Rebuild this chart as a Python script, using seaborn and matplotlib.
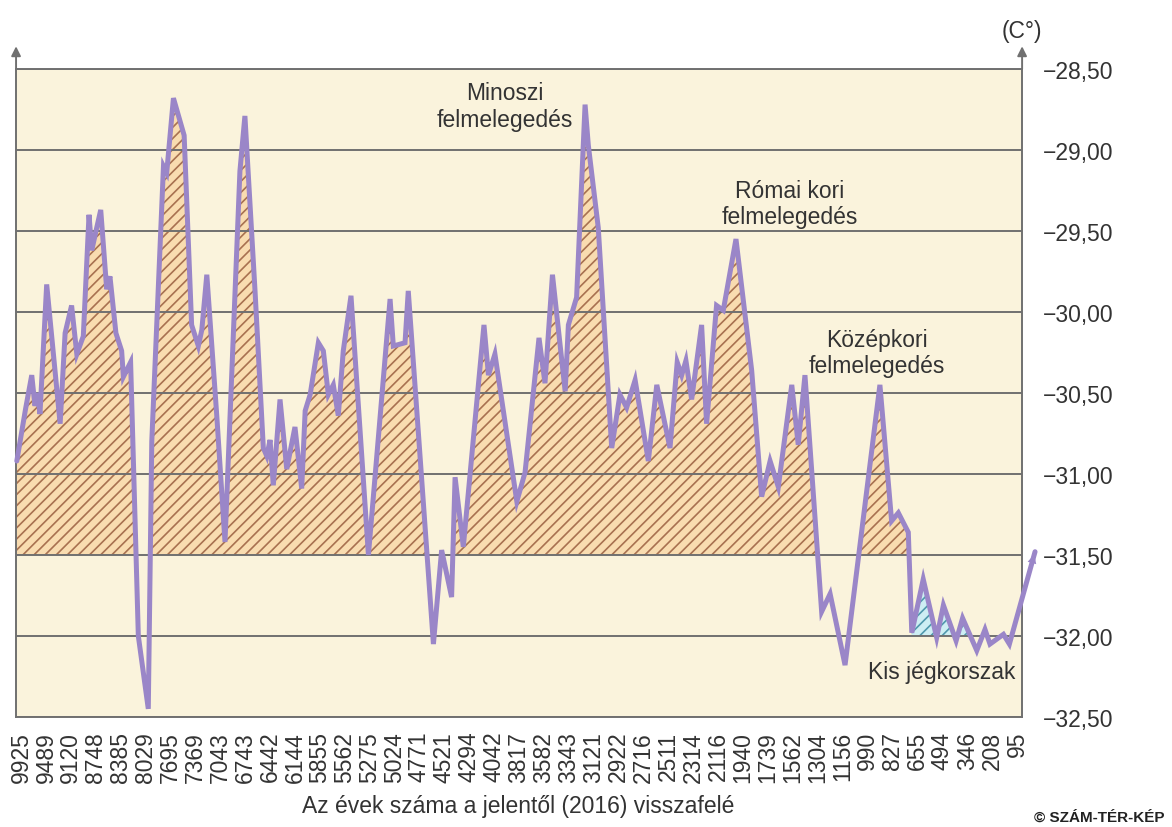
"""
Grönlandi jégmag hőmérséklet-görbe (holocén) újrarajzolása
"""

import matplotlib
matplotlib.use("Agg")
import matplotlib.pyplot as plt
import pandas as pd
import seaborn as sns

# minta sorszáma (egység = egy tengelyfelirat) és hőmérséklet (C°)
sample_pos = [
    -0.17, 0.18, 0.43, 0.56, 0.66, 0.76, 1.03, 1.57, 1.77, 2.03,
    2.24, 2.50, 2.73, 2.84, 3.01, 3.20, 3.44, 3.57, 3.81, 4.04,
    4.11, 4.40, 4.71, 5.11, 5.25, 5.72, 5.85, 6.12, 6.55, 6.85,
    7.12, 7.26, 7.46, 7.86, 8.19, 8.79, 8.99, 9.40, 9.73, 9.87,
    10.00, 10.13, 10.40, 10.67, 11.00, 11.27, 11.41, 11.61, 11.94, 12.14,
    12.34, 12.54, 12.74, 12.94, 13.25, 13.95, 14.82, 14.95, 15.42, 15.55,
    16.56, 16.89, 17.29, 17.43, 17.76, 18.59, 18.77, 19.03, 19.91, 20.24,
    20.80, 21.04, 21.34, 21.85, 21.98, 22.31, 22.65, 22.78, 23.18, 23.72,
    24.05, 24.32, 24.66, 25.19, 25.53, 26.06, 26.35, 26.53, 26.70, 26.93,
    27.33, 27.53, 27.93, 28.20, 28.71, 29.34, 29.74, 30.08, 30.41, 30.95,
    31.21, 31.48, 32.15, 32.49, 33.09, 34.49, 34.96, 35.23, 35.63, 35.77,
    36.23, 36.77, 37.04, 37.55, 37.81, 38.38, 38.71, 38.91, 39.45, 39.69,
    40.72,
]
temp_c = [
    -30.92, -30.60, -30.39, -30.58, -30.50, -30.63, -29.83, -30.69, -30.13, -29.96,
    -30.26, -30.15, -29.40, -29.62, -29.50, -29.37, -29.86, -29.78, -30.13, -30.24,
    -30.40, -30.31, -32.00, -32.45, -30.80, -29.10, -29.14, -28.68, -28.91, -30.08,
    -30.21, -30.11, -29.77, -30.64, -31.42, -29.13, -28.79, -29.88, -30.84, -30.89,
    -30.79, -31.07, -30.54, -30.97, -30.71, -31.09, -30.61, -30.51, -30.19, -30.24,
    -30.51, -30.45, -30.64, -30.24, -29.90, -31.50, -29.92, -30.21, -30.19, -29.87,
    -32.05, -31.47, -31.76, -31.02, -31.45, -30.08, -30.39, -30.26, -31.17, -30.99,
    -30.16, -30.44, -29.77, -30.49, -30.08, -29.91, -28.72, -28.97, -29.48, -30.84,
    -30.51, -30.59, -30.42, -30.92, -30.45, -30.84, -30.31, -30.39, -30.30, -30.54,
    -30.08, -30.69, -29.96, -29.99, -29.55, -30.36, -31.14, -30.92, -31.08, -30.45,
    -30.82, -30.39, -31.85, -31.74, -32.18, -30.45, -31.29, -31.24, -31.36, -31.98,
    -31.65, -32.01, -31.81, -32.03, -31.89, -32.09, -31.96, -32.05, -31.99, -32.05,
    -31.48,
]

year_labels = [
    "9925", "9489", "9120", "8748", "8385", "8029", "7695", "7369", "7043", "6743",
    "6442", "6144", "5855", "5562", "5275", "5024", "4771", "4521", "4294", "4042",
    "3817", "3582", "3343", "3121", "2922", "2716", "2511", "2314", "2116", "1940",
    "1739", "1562", "1304", "1156", "990", "827", "655", "494", "346", "208", "95",
]
y_ticks = [-28.5, -29.0, -29.5, -30.0, -30.5, -31.0, -31.5, -32.0, -32.5]

warm_base = -31.5          # narancs sraffozás alsó határa
cold_base = -32.0          # kék sraffozás alsó határa
cold_span = (35.7, 38.4)   # kis jégkorszak szakasza

# színek
BG = "#faf3dc"
PURPLE = "#9a86c8"
GRAY = "#707070"
TEXT = "#333333"


def main():
    sns.set_theme(style="white")
    plt.rcParams["font.family"] = ["Liberation Sans", "DejaVu Sans"]
    plt.rcParams["hatch.linewidth"] = 1.2

    df = pd.DataFrame({"pos": sample_pos, "temp": temp_c})

    fig = plt.figure(figsize=(11.72, 8.28), dpi=100)
    ax = fig.add_axes([0.0137, 0.1329, 0.8584, 0.7826])
    ax.set_facecolor(BG)

    # sraffozott területek
    ax.fill_between(df["pos"], df["temp"], warm_base,
                    where=df["temp"] >= warm_base, interpolate=True,
                    facecolor="#f9dcb0", edgecolor="#a87150",
                    hatch="///", linewidth=0, zorder=1)
    in_cold = (df["pos"] >= cold_span[0]) & (df["pos"] <= cold_span[1])
    ax.fill_between(df["pos"], df["temp"], cold_base,
                    where=in_cold & (df["temp"] >= cold_base), interpolate=True,
                    facecolor="#cdeef3", edgecolor="#4f98ad",
                    hatch="///", linewidth=0, zorder=1)

    # görbe
    sns.lineplot(data=df, x="pos", y="temp", sort=False, estimator=None,
                 color=PURPLE, linewidth=3.6, ax=ax, zorder=4)
    line = ax.lines[-1]
    line.set_clip_on(False)
    line.set_solid_joinstyle("miter")
    ax.annotate("", xy=(sample_pos[-1], temp_c[-1]),
                xytext=(sample_pos[-2], temp_c[-2]),
                arrowprops=dict(arrowstyle="-|>", color=PURPLE, lw=0,
                                mutation_scale=16),
                annotation_clip=False, zorder=5)

    # tengelyek
    ax.set_xlim(-0.2, 40.2)
    ax.set_ylim(-32.5, -28.5)
    ax.set_xticks(range(len(year_labels)))
    ax.set_xticklabels(year_labels, rotation=90)
    ax.set_yticks(y_ticks)
    ax.set_yticklabels(["\u2212" + f"{abs(v):.2f}".replace(".", ",") for v in y_ticks])
    ax.yaxis.tick_right()
    ax.tick_params(axis="x", length=0, pad=10, labelsize=16.5, labelcolor=TEXT)
    ax.tick_params(axis="y", length=0, pad=15, labelsize=16.5, labelcolor=TEXT)
    ax.set_xlabel("")
    ax.set_ylabel("")
    ax.grid(axis="y", color=GRAY, linewidth=1.4)
    ax.grid(axis="x", visible=False)
    ax.set_axisbelow(False)
    for s in ax.spines.values():
        s.set_color(GRAY)
        s.set_linewidth(1.4)

    for xf in (0, 1):
        ax.annotate("", xy=(xf, 1.035), xytext=(xf, 1.0), xycoords="axes fraction",
                    arrowprops=dict(arrowstyle="-|>", color=GRAY, lw=1.4,
                                    shrinkA=0, shrinkB=0, mutation_scale=14),
                    annotation_clip=False)

    # feliratok
    notes = [
        ("Minoszi\nfelmelegedés", 19.44, -28.73),
        ("Római kori\nfelmelegedés", 30.88, -29.33),
        ("Középkori\nfelmelegedés", 34.38, -30.25),
        ("Kis jégkorszak", 36.99, -32.22),
    ]
    for txt, x, y in notes:
        ax.text(x, y, txt, ha="center", va="center", fontsize=16.5,
                color=TEXT, zorder=6)

    fig.text(0.442, 0.026, "Az évek száma a jelentől (2016) visszafelé",
             ha="center", va="center", fontsize=16.5, color=TEXT)
    fig.text(0.872, 0.962, "(C°)", ha="center", va="center",
             fontsize=16.5, color=TEXT)
    fig.text(0.994, 0.012, "© SZÁM-TÉR-KÉP", ha="right", va="center",
             fontsize=11, fontweight="bold", color="#222222")

    fig.savefig("out.png", dpi=100, facecolor="white")
    plt.close(fig)


if __name__ == "__main__":
    main()
